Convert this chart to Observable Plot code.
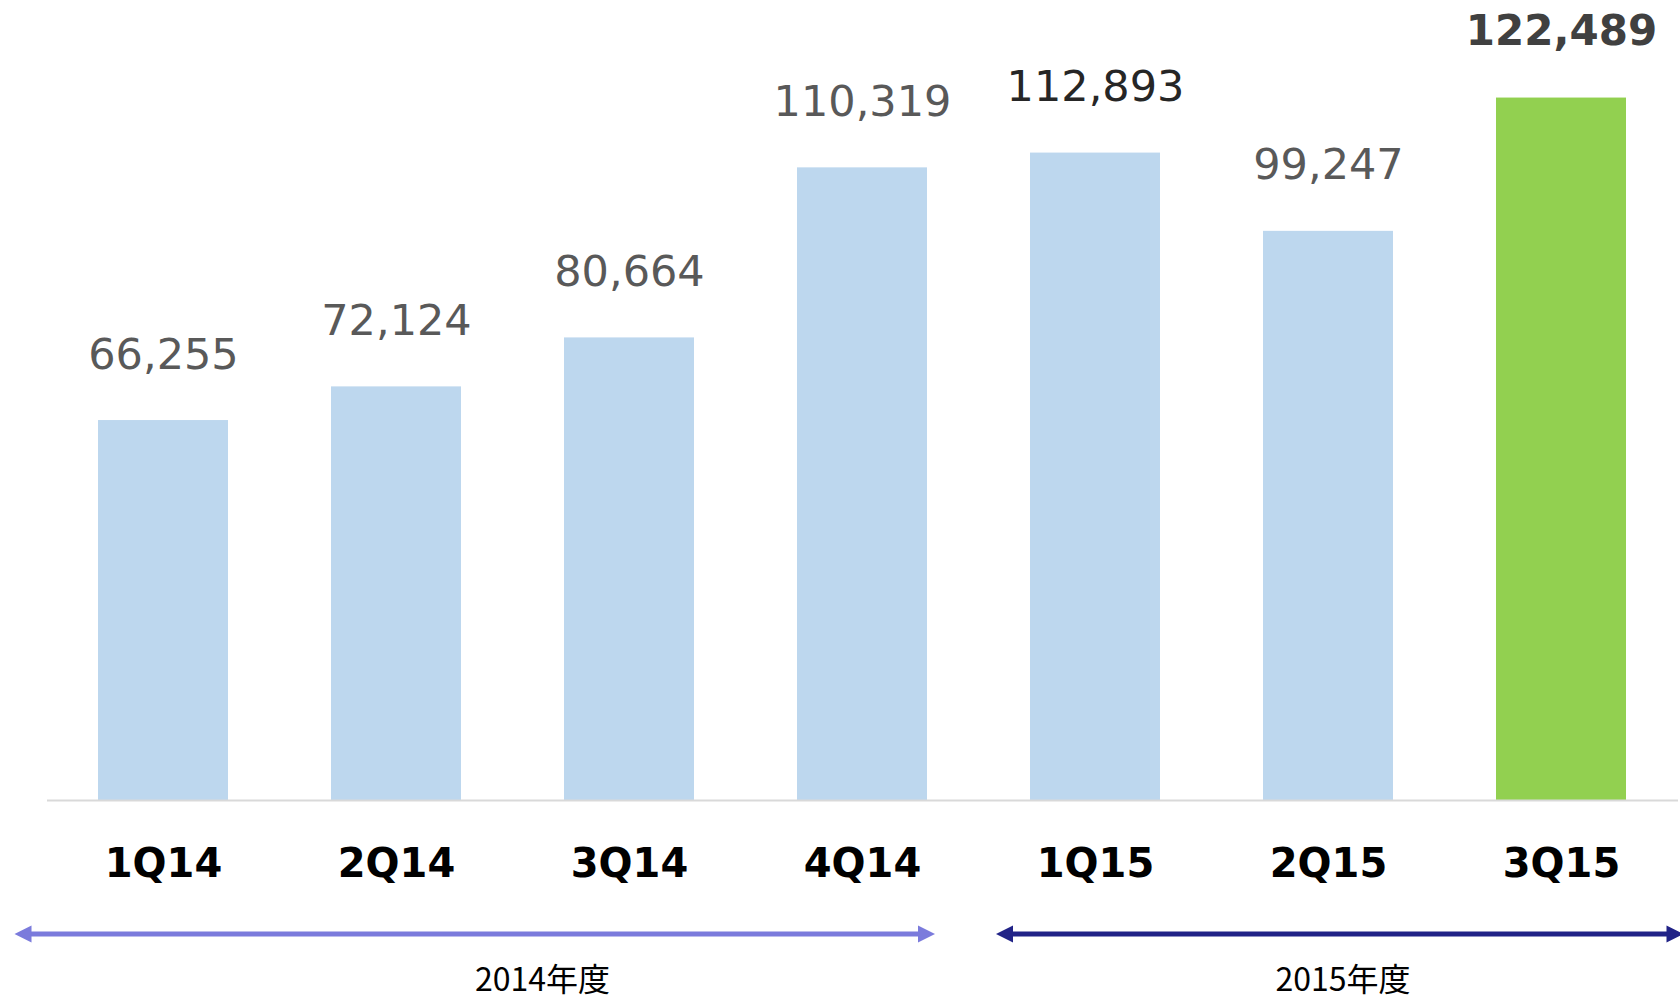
<!DOCTYPE html>
<html>
<head>
<meta charset="utf-8">
<script src="https://cdn.jsdelivr.net/npm/d3@7"></script>
<script src="https://cdn.jsdelivr.net/npm/@observablehq/plot@0.6"></script>
<style>
  html, body { margin: 0; padding: 0; background: #ffffff; }
  #chart svg { display: block; }
</style>
</head>
<body>
<div id="chart"></div>
<script>
// ---- data ----
const quarters = ["1Q14", "2Q14", "3Q14", "4Q14", "1Q15", "2Q15", "3Q15"];
const values = [66255, 72124, 80664, 110319, 112893, 99247, 122489];
const highlighted = ["3Q15"];
const yearLabels = ["2014年度", "2015年度"];
const yearFirst = ["1Q14", "1Q15"];
const yearLast = ["4Q14", "3Q15"];

// ---- styles ----
const barColor = "#BDD7EE";
const highlightColor = "#92D050";
const labelColor = {"1Q15": "#262626", "3Q15": "#404040"};
const arrowColors = ["#7B7BDC", "#212387"];
// arrow tip adjustments relative to each group's band span (px)
const arrowAdjust = [[-32, -43.5], [17.5, 6]];
const labelAdjust = [30, 15];

const data = quarters.map((q, i) => ({q, value: values[i], hi: highlighted.includes(q)}));
const fmt = d3.format(",");

const chart = Plot.plot({
  width: 1680,
  height: 998,
  marginLeft: 47,
  marginRight: 2,
  marginTop: 0,
  marginBottom: 198,
  x: {domain: quarters, paddingInner: 0.44, paddingOuter: 0.22, axis: null},
  y: {domain: [0, 139500], axis: null},
  style: {background: "#ffffff", overflow: "visible"},
  marks: [
    Plot.barY(data.filter(d => !d.hi), {x: "q", y: "value", fill: barColor}),
    Plot.barY(data.filter(d => d.hi), {x: "q", y: "value", fill: highlightColor}),
    Plot.ruleY([0], {stroke: "#D9D9D9", strokeWidth: 2}),
    Plot.text(data.filter(d => !d.hi), {
      x: "q", y: "value", text: d => fmt(d.value),
      lineAnchor: "bottom", dy: -52,
      fill: d => labelColor[d.q] || "#595959",
      fontSize: 43, fontFamily: "DejaVu Sans"
    }),
    Plot.text(data.filter(d => d.hi), {
      x: "q", y: "value", text: d => fmt(d.value),
      lineAnchor: "bottom", dy: -53,
      fill: "#404040", fontWeight: "bold",
      fontSize: 42, fontFamily: "DejaVu Sans"
    }),
    Plot.text(data, {
      x: "q", y: () => 0, text: "q",
      lineAnchor: "middle", dy: 64,
      fill: "#000000", fontWeight: "bold",
      fontSize: 40, fontFamily: "DejaVu Sans"
    })
  ]
});

document.getElementById("chart").appendChild(chart);

// ---- fiscal-year arrows and labels, positioned with Plot's own scales ----
const xs = chart.scale("x");
const ys = chart.scale("y");
const step = xs.step, bw = xs.bandwidth;
const y0 = ys.apply(0);
const arrowY = y0 + 134;
const labelY = y0 + 180;
const headLen = 17, headHalf = 8.5;

const svg = d3.select(chart);
const g = svg.append("g");
yearLabels.forEach((lab, i) => {
  const spanStart = xs.apply(yearFirst[i]) - (step - bw) / 2;
  const spanEnd = xs.apply(yearLast[i]) + bw + (step - bw) / 2;
  const x1 = spanStart + arrowAdjust[i][0];
  const x2 = spanEnd + arrowAdjust[i][1];
  const c = arrowColors[i];
  g.append("line")
    .attr("x1", x1 + headLen - 1).attr("x2", x2 - headLen + 1)
    .attr("y1", arrowY).attr("y2", arrowY)
    .attr("stroke", c).attr("stroke-width", 5);
  g.append("polygon")
    .attr("points", `${x1},${arrowY} ${x1 + headLen},${arrowY - headHalf} ${x1 + headLen},${arrowY + headHalf}`)
    .attr("fill", c);
  g.append("polygon")
    .attr("points", `${x2},${arrowY} ${x2 - headLen},${arrowY - headHalf} ${x2 - headLen},${arrowY + headHalf}`)
    .attr("fill", c);
  g.append("text")
    .attr("x", (spanStart + spanEnd) / 2 + labelAdjust[i])
    .attr("y", labelY)
    .attr("dy", "0.35em")
    .attr("text-anchor", "middle")
    .attr("font-family", "'Noto Sans CJK JP', 'Noto Sans', sans-serif")
    .attr("font-size", 32)
    .attr("fill", "#000000")
    .text(lab);
});
</script>
</body>
</html>
